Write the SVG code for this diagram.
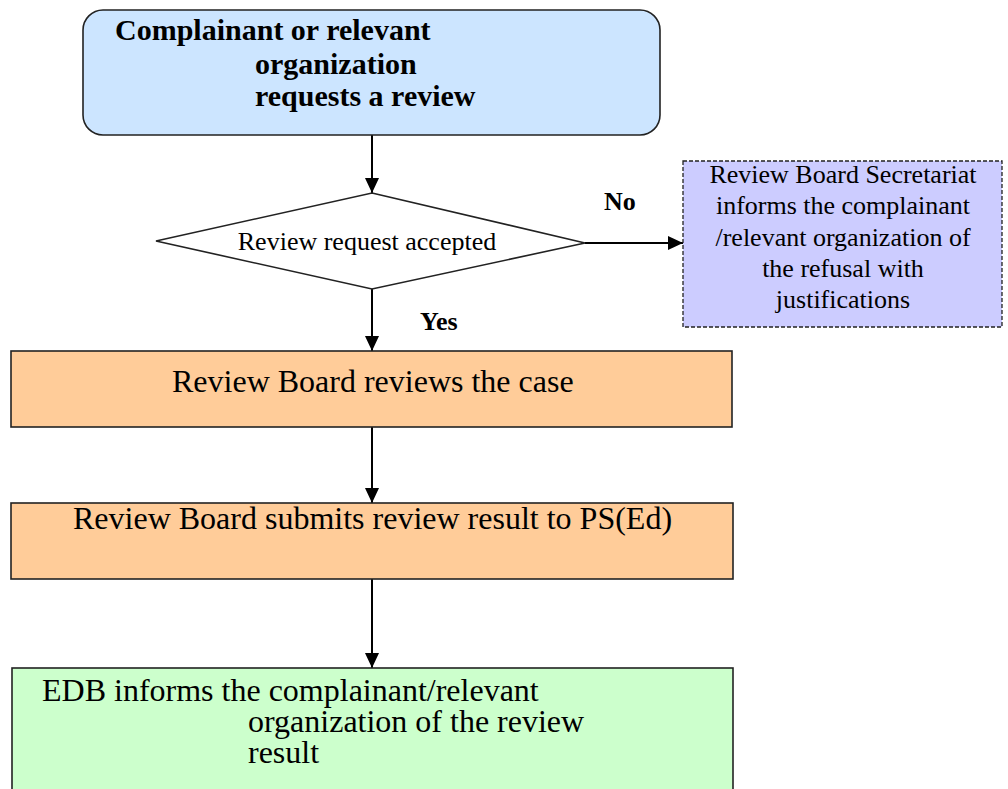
<svg xmlns="http://www.w3.org/2000/svg" width="1008" height="789" viewBox="0 0 1008 789">
<style>
.t{font-family:"Liberation Serif","Times New Roman",serif;fill:#000}
.b{font-weight:bold}
.box{stroke:#222;stroke-width:1.6}
.ln{stroke:#000;stroke-width:2;fill:none}
</style>
<defs>
<marker id="ah" markerWidth="16" markerHeight="16" viewBox="0 0 16 16" refX="15" refY="8" orient="auto" markerUnits="userSpaceOnUse">
<path d="M0,1 L15,8 L0,15 Z" fill="#000"/>
</marker>
</defs>
<rect width="1008" height="789" fill="#fff"/>
<g id="connectors">
<line class="ln" x1="372" y1="135" x2="372" y2="193" marker-end="url(#ah)"/>
<line class="ln" x1="585" y1="243" x2="683" y2="243" marker-end="url(#ah)"/>
<line class="ln" x1="372" y1="289" x2="372" y2="351" marker-end="url(#ah)"/>
<line class="ln" x1="372" y1="427" x2="372" y2="503" marker-end="url(#ah)"/>
<line class="ln" x1="372" y1="579" x2="372" y2="668" marker-end="url(#ah)"/>
<text class="t b" x="604" y="210" font-size="26">No</text>
<text class="t b" x="420" y="330" font-size="26">Yes</text>
</g>
<g id="request">
<rect class="box" x="83" y="10" width="577" height="125" rx="20" ry="20" fill="#CCE5FF"/>
<text class="t b" font-size="30"><tspan x="115" y="40">Complainant or relevant</tspan><tspan x="255" y="74">organization</tspan><tspan x="255" y="106">requests a review</tspan></text>
</g>
<g id="decision">
<polygon class="box" points="372,193 585,243 372,289 156,241" fill="#fff"/>
<text class="t" x="367" y="250" font-size="26" text-anchor="middle">Review request accepted</text>
</g>
<g id="refusal">
<rect x="683" y="161" width="319" height="166" fill="#CCCCFF" stroke="#222" stroke-width="1.3" stroke-dasharray="4 2"/>
<text class="t" font-size="26" text-anchor="middle"><tspan x="843" y="183">Review Board Secretariat</tspan><tspan x="843" y="214">informs the complainant</tspan><tspan x="843" y="246">/relevant organization of</tspan><tspan x="843" y="277">the refusal with</tspan><tspan x="843" y="308">justifications</tspan></text>
</g>
<g id="review">
<rect class="box" x="11" y="351" width="721" height="76" fill="#FFCC99"/>
<text class="t" x="172" y="392" font-size="32">Review Board reviews the case</text>
</g>
<g id="submit">
<rect class="box" x="11" y="503" width="722" height="76" fill="#FFCC99"/>
<text class="t" x="73" y="529" font-size="32">Review Board submits review result to PS(Ed)</text>
</g>
<g id="inform">
<rect class="box" x="12" y="668" width="721" height="140" fill="#CCFFCC"/>
<text class="t" font-size="32"><tspan x="42" y="701">EDB informs the complainant/relevant</tspan><tspan x="248" y="732">organization of the review</tspan><tspan x="248" y="763">result</tspan></text>
</g>
</svg>
